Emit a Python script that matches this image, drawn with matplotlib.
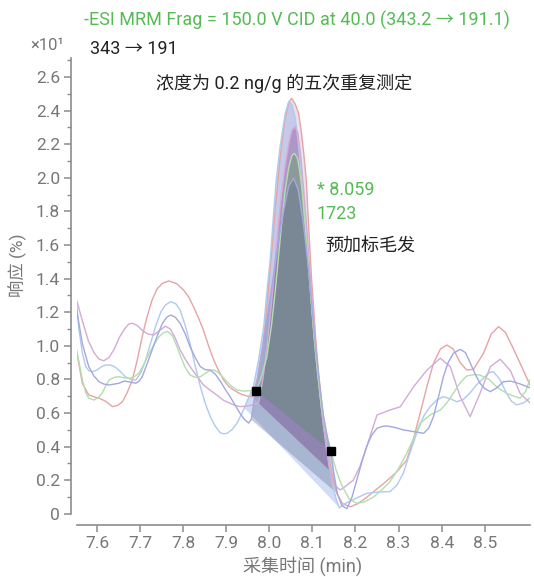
import matplotlib
matplotlib.use("Agg")
import matplotlib.pyplot as plt
from matplotlib.ticker import MultipleLocator, FuncFormatter

# Five replicate injections, 343 -> 191 transition (retention time in min, response x10^1 %)
rt_red = [7.553, 7.566, 7.581, 7.595, 7.605, 7.620, 7.636, 7.648, 7.659, 7.670, 7.682, 7.694, 7.705, 7.716,
          7.728, 7.740, 7.752, 7.767, 7.785, 7.801, 7.813, 7.824, 7.835, 7.847, 7.859, 7.871, 7.883, 7.894,
          7.905, 7.917, 7.930, 7.940, 7.950, 7.960, 7.972, 7.985, 7.995, 8.005, 8.015, 8.025, 8.035, 8.045,
          8.052, 8.060, 8.068, 8.075, 8.081, 8.086, 8.090, 8.094, 8.098, 8.103, 8.108, 8.114, 8.120, 8.127,
          8.135, 8.145, 8.157, 8.170, 8.188, 8.205, 8.222, 8.242, 8.270, 8.296, 8.319, 8.335, 8.350, 8.366,
          8.381, 8.397, 8.412, 8.427, 8.443, 8.458, 8.474, 8.497, 8.515, 8.532, 8.548, 8.565, 8.582, 8.605]
resp_red = [0.965, 0.777, 0.707, 0.695, 0.688, 0.670, 0.638, 0.645, 0.667, 0.720, 0.796, 0.920, 1.054, 1.170,
            1.273, 1.340, 1.372, 1.386, 1.370, 1.332, 1.290, 1.233, 1.170, 1.094, 1.000, 0.915, 0.850, 0.796,
            0.760, 0.737, 0.718, 0.707, 0.700, 0.697, 0.800, 1.000, 1.250, 1.550, 1.850, 2.120, 2.330, 2.450,
            2.473, 2.440, 2.384, 2.260, 2.120, 1.980, 1.780, 1.580, 1.400, 1.220, 1.030, 0.850, 0.700, 0.520,
            0.380, 0.240, 0.120, 0.060, 0.042, 0.060, 0.090, 0.132, 0.190, 0.250, 0.320, 0.450, 0.598, 0.760,
            0.896, 0.980, 1.005, 0.980, 0.900, 0.856, 0.860, 0.955, 1.070, 1.114, 1.080, 0.990, 0.896, 0.767]

rt_lightblue = [7.553, 7.558, 7.566, 7.574, 7.582, 7.589, 7.600, 7.610, 7.620, 7.632, 7.643, 7.655, 7.666,
                7.678, 7.690, 7.702, 7.713, 7.725, 7.736, 7.748, 7.759, 7.771, 7.783, 7.793, 7.805, 7.816,
                7.828, 7.840, 7.851, 7.863, 7.875, 7.886, 7.894, 7.902, 7.913, 7.925, 7.935, 7.942, 7.950,
                7.963, 7.975, 7.987, 7.994, 8.002, 8.010, 8.016, 8.025, 8.037, 8.045, 8.052, 8.060, 8.066,
                8.072, 8.078, 8.084, 8.090, 8.096, 8.102, 8.109, 8.117, 8.126, 8.136, 8.147, 8.156, 8.163,
                8.175, 8.200, 8.226, 8.255, 8.280, 8.296, 8.311, 8.326, 8.342, 8.358, 8.373, 8.390, 8.404,
                8.420, 8.435, 8.450, 8.466, 8.482, 8.497, 8.510, 8.520, 8.535, 8.550, 8.562, 8.574, 8.590, 8.605]
resp_lightblue = [1.253, 1.100, 0.960, 0.876, 0.850, 0.846, 0.855, 0.875, 0.886, 0.885, 0.872, 0.845, 0.816,
                  0.800, 0.796, 0.840, 0.915, 1.020, 1.114, 1.200, 1.243, 1.263, 1.250, 1.213, 1.120, 1.015,
                  0.880, 0.757, 0.660, 0.578, 0.520, 0.483, 0.476, 0.479, 0.500, 0.539, 0.590, 0.630, 0.680,
                  0.757, 0.915, 1.114, 1.312, 1.511, 1.789, 1.987, 2.185, 2.384, 2.453, 2.440, 2.360, 2.240,
                  2.080, 1.900, 1.720, 1.520, 1.320, 1.120, 0.920, 0.720, 0.520, 0.340, 0.170, 0.080, 0.035,
                  0.060, 0.090, 0.122, 0.130, 0.132, 0.170, 0.241, 0.360, 0.479, 0.580, 0.637, 0.680, 0.697,
                  0.685, 0.667, 0.680, 0.720, 0.770, 0.806, 0.840, 0.846, 0.800, 0.720, 0.670, 0.648, 0.660, 0.690]

rt_lavender = [7.553, 7.566, 7.574, 7.581, 7.593, 7.605, 7.616, 7.628, 7.640, 7.651, 7.663, 7.675, 7.690,
               7.698, 7.705, 7.716, 7.728, 7.740, 7.752, 7.762, 7.771, 7.782, 7.793, 7.805, 7.816, 7.828,
               7.840, 7.851, 7.863, 7.875, 7.886, 7.898, 7.909, 7.920, 7.932, 7.943, 7.952, 7.958, 7.965,
               7.975, 7.988, 8.000, 8.010, 8.020, 8.033, 8.045, 8.056, 8.067, 8.079, 8.087, 8.093, 8.100,
               8.108, 8.117, 8.126, 8.135, 8.143, 8.150, 8.158, 8.168, 8.180, 8.192, 8.203, 8.215, 8.226,
               8.238, 8.250, 8.262, 8.273, 8.290, 8.310, 8.335, 8.358, 8.370, 8.381, 8.393, 8.404, 8.415,
               8.427, 8.443, 8.455, 8.466, 8.478, 8.489, 8.500, 8.513, 8.528, 8.543, 8.560, 8.580, 8.605]
resp_lavender = [1.213, 1.015, 0.940, 0.876, 0.820, 0.786, 0.772, 0.767, 0.772, 0.777, 0.790, 0.785, 0.777,
                 0.790, 0.816, 0.890, 0.975, 1.060, 1.134, 1.170, 1.183, 1.170, 1.134, 1.070, 0.995, 0.930,
                 0.876, 0.858, 0.856, 0.830, 0.790, 0.740, 0.697, 0.650, 0.598, 0.560, 0.540, 0.560, 0.680,
                 0.840, 1.050, 1.250, 1.420, 1.600, 1.800, 1.950, 1.997, 1.930, 1.729, 1.550, 1.410, 1.200,
                 0.980, 0.760, 0.580, 0.450, 0.360, 0.240, 0.120, 0.050, 0.030, 0.100, 0.201, 0.310, 0.400,
                 0.470, 0.509, 0.520, 0.523, 0.515, 0.500, 0.489, 0.479, 0.510, 0.578, 0.700, 0.816, 0.900,
                 0.955, 0.979, 0.960, 0.900, 0.830, 0.777, 0.745, 0.727, 0.750, 0.786, 0.790, 0.775, 0.750]

rt_violet = [7.553, 7.566, 7.580, 7.593, 7.605, 7.616, 7.628, 7.640, 7.652, 7.664, 7.674, 7.682, 7.694,
             7.706, 7.718, 7.732, 7.745, 7.759, 7.770, 7.781, 7.793, 7.805, 7.816, 7.832, 7.847, 7.863,
             7.878, 7.894, 7.909, 7.920, 7.932, 7.945, 7.955, 7.965, 7.975, 7.985, 7.995, 8.005, 8.015,
             8.025, 8.035, 8.045, 8.052, 8.059, 8.066, 8.073, 8.080, 8.087, 8.093, 8.100, 8.107, 8.115,
             8.122, 8.131, 8.140, 8.150, 8.165, 8.180, 8.195, 8.210, 8.226, 8.250, 8.280, 8.304, 8.335,
             8.366, 8.397, 8.420, 8.443, 8.466, 8.489, 8.513, 8.536, 8.560, 8.582, 8.605]
resp_violet = [1.270, 1.150, 1.030, 0.960, 0.920, 0.911, 0.930, 0.980, 1.050, 1.100, 1.130, 1.134, 1.120,
               1.090, 1.070, 1.064, 1.090, 1.117, 1.100, 1.050, 0.975, 0.920, 0.876, 0.820, 0.767, 0.735,
               0.707, 0.675, 0.658, 0.645, 0.638, 0.640, 0.645, 0.650, 0.658, 0.800, 1.000, 1.250, 1.550,
               1.820, 2.040, 2.200, 2.280, 2.304, 2.270, 2.126, 1.920, 1.700, 1.480, 1.250, 1.020, 0.800,
               0.600, 0.420, 0.260, 0.170, 0.142, 0.170, 0.201, 0.280, 0.400, 0.588, 0.618, 0.637, 0.757,
               0.856, 0.926, 0.876, 0.697, 0.578, 0.717, 0.876, 0.920, 0.850, 0.717, 0.660]

rt_green = [7.553, 7.566, 7.574, 7.581, 7.593, 7.602, 7.612, 7.620, 7.628, 7.640, 7.651, 7.663, 7.674,
            7.686, 7.697, 7.709, 7.721, 7.733, 7.744, 7.755, 7.764, 7.775, 7.785, 7.793, 7.805, 7.816,
            7.828, 7.840, 7.851, 7.862, 7.871, 7.880, 7.890, 7.898, 7.910, 7.925, 7.940, 7.956, 7.969,
            7.980, 7.994, 8.005, 8.014, 8.022, 8.030, 8.037, 8.045, 8.052, 8.058, 8.065, 8.070, 8.076,
            8.083, 8.090, 8.097, 8.104, 8.112, 8.121, 8.132, 8.143, 8.155, 8.168, 8.185, 8.203, 8.220,
            8.242, 8.260, 8.280, 8.300, 8.319, 8.335, 8.350, 8.373, 8.397, 8.412, 8.427, 8.443, 8.458,
            8.474, 8.489, 8.510, 8.530, 8.551, 8.568, 8.582, 8.595, 8.605]
resp_green = [0.975, 0.800, 0.720, 0.688, 0.677, 0.690, 0.717, 0.760, 0.796, 0.812, 0.816, 0.810, 0.806,
              0.815, 0.836, 0.890, 0.955, 1.010, 1.054, 1.078, 1.085, 1.060, 1.000, 0.945, 0.870, 0.826,
              0.812, 0.816, 0.835, 0.853, 0.856, 0.845, 0.820, 0.796, 0.765, 0.737, 0.730, 0.733, 0.733,
              0.800, 0.930, 1.120, 1.330, 1.550, 1.760, 1.930, 2.060, 2.130, 2.146, 2.120, 2.050, 1.927,
              1.720, 1.500, 1.270, 1.050, 0.840, 0.640, 0.490, 0.374, 0.260, 0.170, 0.090, 0.062, 0.070,
              0.100, 0.140, 0.191, 0.270, 0.360, 0.450, 0.539, 0.588, 0.618, 0.660, 0.717, 0.780, 0.820,
              0.828, 0.826, 0.800, 0.750, 0.717, 0.700, 0.688, 0.730, 0.800]

# Integration limits (peak start / end retention times) for each replicate
peak_start = {"red": 7.960, "lightblue": 7.942, "lavender": 7.958, "violet": 7.975, "green": 7.969}
peak_end = {"red": 8.145, "lightblue": 8.163, "lavender": 8.158, "violet": 8.140, "green": 8.143}

traces = {
    "red": (rt_red, resp_red),
    "lightblue": (rt_lightblue, resp_lightblue),
    "violet": (rt_violet, resp_violet),
    "green": (rt_green, resp_green),
    "lavender": (rt_lavender, resp_lavender),
}
line_colors = {"red": "#e6a4a6", "lightblue": "#aecbef", "violet": "#d4abd8",
               "green": "#b2dfac", "lavender": "#a3a8df"}
fill_colors = {"red": ("#d0a8c4", 0.35), "lightblue": ("#8cabe6", 0.40), "violet": ("#8a4896", 0.40),
               "green": ("#50a046", 0.33), "lavender": ("#4b5f82", 0.30)}

W, H = 534, 577
fig = plt.figure(figsize=(W / 100, H / 100), dpi=100)
ax = fig.add_axes([76.7 / W, 1 - 513.8 / H, (530 - 76.7) / W, (513.8 - 58) / H])

latin_cjk = ["Roboto", "Noto Sans CJK SC", "DejaVu Sans"]
grey = "#777777"

# Integrated peak areas: curve closed by the straight baseline between start and end points
for name, (rt, resp) in traces.items():
    i0 = rt.index(peak_start[name])
    i1 = rt.index(peak_end[name])
    col, a = fill_colors[name]
    ax.fill(rt[i0:i1 + 1], resp[i0:i1 + 1], color=col, alpha=a, lw=0, zorder=2)

for name, (rt, resp) in traces.items():
    ax.plot(rt, resp, color=line_colors[name], lw=1.0, zorder=3)

# Integration markers of the reported peak
g0 = rt_green.index(peak_start["green"])
g1 = rt_green.index(peak_end["green"])
ax.plot([rt_green[g0], rt_green[g1]], [resp_green[g0], resp_green[g1]], ls="none",
        marker="s", ms=5.5, color="black", zorder=5)

ax.set_xlim(7.553, 8.605)
ax.set_ylim(0, 2.713)
ax.yaxis.set_major_locator(MultipleLocator(0.2))
ax.yaxis.set_minor_locator(MultipleLocator(0.1))
ax.set_xticks([7.6, 7.7, 7.8, 7.9, 8.0, 8.1, 8.2, 8.3, 8.4, 8.5])
ax.yaxis.set_major_formatter(FuncFormatter(lambda v, p: "0" if abs(v) < 1e-9 else f"{v:.1f}"))

for side in ("top", "right"):
    ax.spines[side].set_visible(False)
ax.spines["left"].set_position(("outward", 4))
ax.spines["bottom"].set_position(("outward", 8))
for side in ("left", "bottom"):
    ax.spines[side].set_color("#8c8c8c")
    ax.spines[side].set_linewidth(1.2)
ax.tick_params(which="major", length=5, width=1.1, color="#8c8c8c", labelcolor=grey, labelsize=12.5, pad=3)
ax.tick_params(which="minor", length=3, width=1.0, color="#8c8c8c")
for lab in ax.get_xticklabels() + ax.get_yticklabels():
    lab.set_fontfamily("Roboto")

green_txt = "#55bb55"
fig.text(296.5 / W, 1 - 20 / H, "-ESI MRM Frag = 150.0 V CID at 40.0 (343.2 → 191.1)",
         color=green_txt, fontsize=13, ha="center", va="center", family=latin_cjk)
fig.text(30 / W, 1 - 46 / H, "×10¹", color=grey, fontsize=12, ha="left", va="center", family=latin_cjk)
fig.text(90 / W, 1 - 49 / H, "343 → 191", color="#222222", fontsize=13, ha="left", va="center",
         family=latin_cjk)
fig.text(284 / W, 1 - 83 / H, "浓度为 0.2 ng/g 的五次重复测定", color="#222222", fontsize=13,
         ha="center", va="center", family=latin_cjk)
fig.text(317 / W, 1 - 190 / H, "* 8.059", color=green_txt, fontsize=13, ha="left", va="center",
         family=latin_cjk)
fig.text(317 / W, 1 - 214 / H, "1723", color=green_txt, fontsize=13, ha="left", va="center",
         family=latin_cjk)
fig.text(325 / W, 1 - 246 / H, "预加标毛发", color="#222222", fontsize=13, ha="left", va="center",
         family=latin_cjk)
fig.text(18 / W, 1 - 265 / H, "响应 (%)", color=grey, fontsize=12.5, ha="center", va="center",
         rotation=90, family=latin_cjk)
fig.text(303 / W, 1 - 566 / H, "采集时间 (min)", color=grey, fontsize=13, ha="center", va="center",
         family=latin_cjk)

fig.savefig("out.png", dpi=100)
